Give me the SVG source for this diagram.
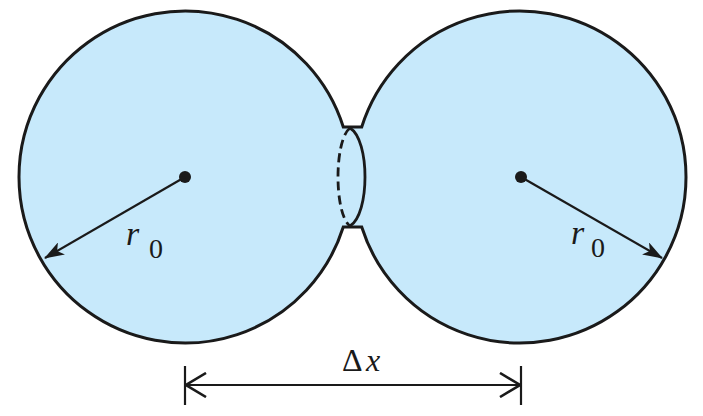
<svg xmlns="http://www.w3.org/2000/svg" width="703" height="416" viewBox="0 0 703 416">
  <style>
    .body { fill: #c7e9fb; stroke: #1a1a1a; stroke-width: 3; stroke-linejoin: miter; }
    .neck { fill: none; stroke: #1a1a1a; stroke-width: 2.8; }
    .dash { stroke-dasharray: 9 5; }
    .conn { fill: none; stroke: #1a1a1a; stroke-width: 2.2; }
    .tick { stroke: #1a1a1a; stroke-width: 2.2; }
    .dot { fill: #1a1a1a; }
    .lbl { font-family: "Liberation Serif", "Times New Roman", serif; fill: #1a1a1a; }
  </style>
  <defs>
    <marker id="barb" viewBox="0 0 20 14" refX="19" refY="7" markerWidth="20" markerHeight="14" markerUnits="userSpaceOnUse" orient="auto">
      <path d="M0,0 L20,7 L0,14 L5,7 Z" fill="#1a1a1a"/>
    </marker>
    <marker id="chev" viewBox="0 0 22 26" refX="21" refY="13" markerWidth="22" markerHeight="26" markerUnits="userSpaceOnUse" orient="auto-start-reverse">
      <path d="M1,1 L21,13 L1,25" fill="none" stroke="#1a1a1a" stroke-width="2.6"/>
    </marker>
  </defs>

  <g id="particles">
    <path class="body" d="M343.29 127 L361.71 127 A166 166 0 1 1 361.71 227 L343.29 227 A166 166 0 1 1 343.29 127 Z"/>
  </g>

  <g id="neck">
    <path class="neck" d="M350 128 C370 140 370 214 350 226"/>
    <path class="neck dash" d="M350 128 C334 140 334 214 350 226"/>
  </g>

  <g id="centers">
    <circle class="dot" cx="185" cy="177" r="6"/>
    <circle class="dot" cx="521" cy="177" r="6"/>
  </g>

  <g id="connectors">
    <line class="conn" x1="185" y1="177" x2="45" y2="258" marker-end="url(#barb)"/>
    <line class="conn" x1="521" y1="177" x2="662" y2="258" marker-end="url(#barb)"/>
    <line class="tick" x1="185" y1="366" x2="185" y2="405"/>
    <line class="tick" x1="521" y1="366" x2="521" y2="405"/>
    <line class="conn" x1="186" y1="385" x2="520" y2="385" marker-start="url(#chev)" marker-end="url(#chev)"/>
  </g>

  <g id="labels">
    <text class="lbl" font-size="34"><tspan font-style="italic" x="126" y="245">r</tspan><tspan x="149" y="258" font-size="28">0</tspan></text>
    <text class="lbl" font-size="34"><tspan font-style="italic" x="571" y="244">r</tspan><tspan x="591" y="257" font-size="28">0</tspan></text>
    <text class="lbl" font-size="32"><tspan x="342" y="371">Δ</tspan><tspan font-style="italic" x="366" y="371">x</tspan></text>
  </g>
</svg>
